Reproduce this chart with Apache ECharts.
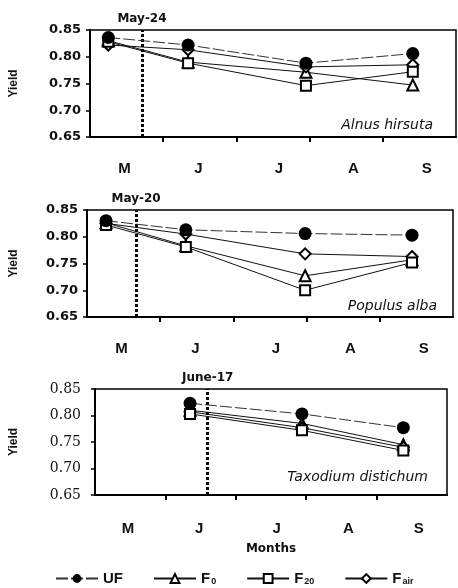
<!DOCTYPE html>
<html>
<head>
<meta charset="utf-8">
<script src="https://cdn.jsdelivr.net/npm/echarts@6/dist/echarts.min.js"></script>
<style>
html, body { margin: 0; padding: 0; background: #fff; }
#main { width: 458px; height: 588px; }
</style>
</head>
<body>
<div id="main"></div>
<script>
// x axis is in month units: 0 = start of May, 5 = end of September
var monthLabels = ['M', 'J', 'J', 'A', 'S'];
var monthLabelPos = [0.47, 1.48, 2.58, 3.6, 4.6];
var monthTicks = [1, 2, 3, 4];

var seriesNames = ['UF', 'F0', 'F20', 'Fair'];

// Alnus hirsuta
var alnusX = [0.25, 1.34, 2.95, 4.41];
var alnusUF = [0.836, 0.822, 0.788, 0.806];
var alnusF0 = [0.830, 0.790, 0.771, 0.747];
var alnusF20 = [0.828, 0.788, 0.746, 0.772];
var alnusFair = [0.822, 0.813, 0.781, 0.785];

// Populus alba
var populusX = [0.26, 1.35, 2.98, 4.44];
var populusUF = [0.830, 0.813, 0.806, 0.803];
var populusF0 = [0.826, 0.783, 0.727, 0.757];
var populusF20 = [0.822, 0.781, 0.700, 0.752];
var populusFair = [0.825, 0.805, 0.768, 0.763];

// Taxodium distichum
var taxodiumX = [1.35, 2.94, 4.38];
var taxodiumUF = [0.823, 0.803, 0.777];
var taxodiumF0 = [0.810, 0.785, 0.745];
var taxodiumF20 = [0.803, 0.772, 0.734];
var taxodiumFair = [0.807, 0.777, 0.740];

// flooding dates (dotted line)
var eventLabels = ['May-24', 'May-20', 'June-17'];
var eventX = [0.71, 0.67, 1.6];

var species = ['Alnus hirsuta', 'Populus alba', 'Taxodium distichum'];

var panels = [
	{x: alnusX, UF: alnusUF, F0: alnusF0, F20: alnusF20, Fair: alnusFair},
	{x: populusX, UF: populusUF, F0: populusF0, F20: populusF20, Fair: populusFair},
	{x: taxodiumX, UF: taxodiumUF, F0: taxodiumF0, F20: taxodiumF20, Fair: taxodiumFair}
];

var grids = [
	{left: 90, top: 30, width: 366, height: 107},
	{left: 87, top: 210, width: 366, height: 107},
	{left: 95, top: 389, width: 352, height: 106}
];

var markerStyle = {
	UF:   {symbol: 'circle', size: 13, fill: '#000', line: {color: '#333', width: 1, type: [12, 3]}},
	F0:   {symbol: 'triangle', size: 11, fill: '#fff', line: {color: '#111', width: 1, type: 'solid'}},
	F20:  {symbol: 'rect', size: 10, fill: '#fff', line: {color: '#111', width: 1, type: 'solid'}},
	Fair: {symbol: 'diamond', size: 11, fill: '#fff', line: {color: '#111', width: 1, type: 'solid'}}
};

function zip(xs, ys){
	var out = [];
	for (var i = 0; i < xs.length; i++) {
		out.push([xs[i], ys[i]]);
	}
	return out;
}

var xAxes = [], yAxes = [], series = [];
// draw order so the filled circle ends on top
var drawOrder = ['F0', 'Fair', 'F20', 'UF'];

for (var p = 0; p < 3; p++) {
	var serif = (p == 2);
	xAxes.push({
		type: 'value',
		gridIndex: p,
		min: 0,
		max: 5,
		name: p == 2 ? 'Months' : '',
		nameLocation: 'middle',
		nameGap: 48,
		nameTextStyle: {color: '#111', fontFamily: 'DejaVu Sans', fontWeight: 'bold', fontSize: 12},
		splitLine: {show: false},
		axisLine: {show: true, lineStyle: {color: '#000', width: 2}},
		axisTick: {show: true, length: 5, customValues: monthTicks, lineStyle: {color: '#000', width: 2}},
		axisLabel: {
			show: true,
			customValues: monthLabelPos,
			margin: p == 2 ? 26 : 24,
			color: '#111',
			fontFamily: 'Liberation Sans',
			fontWeight: 'bold',
			fontSize: 15,
			formatter: function (v) {
				var i = monthLabelPos.indexOf(v);
				return i >= 0 ? monthLabels[i] : '';
			}
		}
	});
	yAxes.push({
		type: 'value',
		gridIndex: p,
		min: 0.65,
		max: 0.85,
		interval: 0.05,
		name: 'Yield',
		nameLocation: 'middle',
		nameRotate: 90,
		nameGap: grids[p].left - 20,
		nameTextStyle: {color: '#111', fontFamily: 'Liberation Sans', fontWeight: 'bold', fontSize: 12},
		splitLine: {show: false},
		axisLine: {show: true, lineStyle: {color: '#000', width: 2}},
		axisTick: {show: true, length: 4, lineStyle: {color: '#000', width: 1.5}},
		axisLabel: {
			margin: serif ? 14 : 9,
			color: '#111',
			fontFamily: serif ? 'DejaVu Serif' : 'DejaVu Sans',
			fontWeight: serif ? 'normal' : 'bold',
			fontSize: serif ? 14 : 13,
			formatter: function (v) { return v.toFixed(2); }
		}
	});

	for (var k = 0; k < drawOrder.length; k++) {
		var name = drawOrder[k];
		var st = markerStyle[name];
		var s = {
			name: name,
			type: 'line',
			xAxisIndex: p,
			yAxisIndex: p,
			data: zip(panels[p].x, panels[p][name]),
			symbol: st.symbol,
			symbolSize: st.size,
			showAllSymbol: true,
			itemStyle: {color: st.fill, borderColor: '#000', borderWidth: st.fill == '#fff' ? 2 : 0, opacity: 1},
			lineStyle: st.line,
			z: 2 + k,
			animation: false
		};
		if (name == 'UF') {
			s.markLine = {
				silent: true,
				symbol: ['none', 'none'],
				animation: false,
				lineStyle: {color: '#000', type: [3, 2], width: 3},
				label: {
					show: true,
					position: 'end',
					distance: 5,
					formatter: eventLabels[p],
					color: '#111',
					fontFamily: 'DejaVu Sans',
					fontWeight: 'bold',
					fontSize: 12
				},
				data: [{xAxis: eventX[p]}]
			};
		}
		series.push(s);
	}
}

var speciesGraphics = [];
var speciesPos = [[433, 125], [437, 306], [428, 477]];
for (var q = 0; q < 3; q++) {
	speciesGraphics.push({
		type: 'text',
		x: speciesPos[q][0],
		y: speciesPos[q][1],
		style: {
			text: species[q],
			fill: '#111',
			font: 'italic 14px "DejaVu Sans"',
			align: 'right',
			textAlign: 'right',
			verticalAlign: 'middle',
			textVerticalAlign: 'middle'
		}
	});
}

var legendText = {UF: 'UF', F0: 'F{s|0}', F20: 'F{s|20}', Fair: 'F{s|air}'};

var myChart = echarts.init(document.getElementById('main'));
var option = {
	animation: false,
	backgroundColor: '#fff',
	grid: grids.map(function (g) {
		return {left: g.left, top: g.top, width: g.width, height: g.height,
			show: true, borderColor: '#000', borderWidth: 1.5, backgroundColor: 'transparent'};
	}),
	xAxis: xAxes,
	yAxis: yAxes,
	legend: {
		data: seriesNames,
		top: 566,
		left: 50,
		itemWidth: 42,
		itemHeight: 11,
		itemGap: 30,
		formatter: function (name) { return legendText[name]; },
		textStyle: {
			color: '#111',
			fontFamily: 'Liberation Sans',
			fontWeight: 'bold',
			fontSize: 15,
			rich: {
				s: {fontSize: 9, fontFamily: 'Liberation Sans', fontWeight: 'bold', color: '#111', verticalAlign: 'bottom', padding: [6, 0, 0, 1]}
			}
		}
	},
	graphic: speciesGraphics,
	series: series
};
myChart.setOption(option);
</script>
</body>
</html>
